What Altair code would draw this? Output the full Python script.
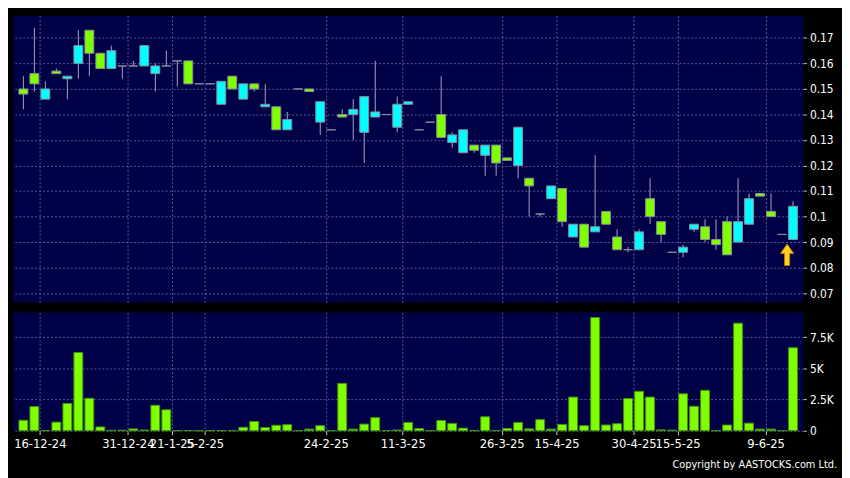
import altair as alt
import numpy as np
import pandas as pd

# ---- data (one entry per trading session shown) ----
opens = [0.150, 0.156, 0.146, 0.157, 0.154, 0.160, 0.173, 0.164, 0.158, 0.159,
         0.159, 0.159, 0.156, 0.159, 0.161, 0.161, 0.152, 0.152, 0.144, 0.155,
         0.146, 0.152, 0.143, 0.143, 0.134, 0.150, 0.150, 0.137, 0.134, 0.140,
         0.140, 0.133, 0.139, 0.140, 0.135, 0.144, 0.134, 0.137, 0.140, 0.129,
         0.125, 0.128, 0.124, 0.128, 0.123, 0.120, 0.115, 0.101, 0.107, 0.111,
         0.092, 0.097, 0.094, 0.102, 0.092, 0.087, 0.087, 0.107, 0.098, 0.086,
         0.086, 0.095, 0.096, 0.091, 0.098, 0.090, 0.097, 0.109, 0.102, 0.093,
         0.091]
closes = [0.148, 0.152, 0.150, 0.156, 0.155, 0.167, 0.164, 0.158, 0.165, 0.159,
          0.159, 0.167, 0.159, 0.159, 0.161, 0.152, 0.152, 0.152, 0.153, 0.150,
          0.152, 0.150, 0.144, 0.134, 0.138, 0.150, 0.149, 0.145, 0.134, 0.139,
          0.142, 0.147, 0.141, 0.140, 0.144, 0.145, 0.134, 0.137, 0.131, 0.132,
          0.134, 0.126, 0.128, 0.121, 0.122, 0.135, 0.112, 0.101, 0.112, 0.098,
          0.097, 0.088, 0.096, 0.097, 0.087, 0.087, 0.094, 0.100, 0.093, 0.086,
          0.088, 0.097, 0.091, 0.089, 0.085, 0.098, 0.107, 0.108, 0.100, 0.093,
          0.104]
highs = [0.155, 0.174, 0.153, 0.158, 0.155, 0.173, 0.173, 0.164, 0.167, 0.159,
         0.161, 0.167, 0.160, 0.165, 0.161, 0.161, 0.152, 0.152, 0.153, 0.155,
         0.152, 0.152, 0.152, 0.143, 0.141, 0.150, 0.150, 0.145, 0.134, 0.142,
         0.146, 0.147, 0.161, 0.140, 0.147, 0.145, 0.134, 0.137, 0.155, 0.133,
         0.134, 0.128, 0.128, 0.128, 0.123, 0.135, 0.115, 0.101, 0.112, 0.111,
         0.097, 0.097, 0.124, 0.102, 0.095, 0.088, 0.095, 0.115, 0.098, 0.086,
         0.089, 0.097, 0.099, 0.099, 0.100, 0.115, 0.109, 0.109, 0.109, 0.093,
         0.106]
lows = [0.142, 0.149, 0.146, 0.156, 0.146, 0.154, 0.155, 0.158, 0.158, 0.154,
        0.159, 0.159, 0.149, 0.159, 0.151, 0.152, 0.152, 0.152, 0.144, 0.150,
        0.146, 0.149, 0.143, 0.134, 0.134, 0.150, 0.149, 0.132, 0.134, 0.139,
        0.130, 0.121, 0.139, 0.140, 0.133, 0.144, 0.134, 0.137, 0.131, 0.127,
        0.125, 0.125, 0.116, 0.116, 0.122, 0.115, 0.100, 0.100, 0.107, 0.096,
        0.092, 0.088, 0.094, 0.097, 0.087, 0.086, 0.087, 0.097, 0.090, 0.086,
        0.084, 0.094, 0.090, 0.087, 0.085, 0.090, 0.097, 0.108, 0.100, 0.093,
        0.091]
volumes = [840, 1940, 20, 690, 2190, 6270, 2600, 305, 30, 40,
           150, 60, 2040, 1680, 20, 20, 10, 10, 10, 10,
           280, 740, 260, 440, 490, 10, 130, 410, 10, 3800,
           130, 535, 1050, 10, 60, 665, 180, 10, 820, 590,
           210, 30, 1120, 20, 180, 665, 150, 890, 130, 510,
           2700, 410, 9070, 460, 565, 2580, 3160, 2700, 70, 50,
           2960, 1960, 3240, 10, 460, 8620, 610, 130, 130, 10,
           6650]

# date labels and the session boundaries they sit on
tick_labels = ["16-12-24", "31-12-24", "21-1-25", "5-2-25", "24-2-25", "11-3-25",
               "26-3-25", "15-4-25", "30-4-25", "15-5-25", "9-6-25"]
tick_positions = [1.5, 9.5, 13.5, 16.5, 27.5, 34.5, 43.5, 48.5, 55.5, 59.5, 67.5]
price_ticks = [0.07, 0.08, 0.09, 0.10, 0.11, 0.12, 0.13, 0.14, 0.15, 0.16, 0.17]
volume_ticks = [0, 2500, 5000, 7500]
arrow_marker = {"i": 70, "p": 0.085}
copyright_text = "Copyright by AASTOCKS.com Ltd."

# ---- table ----
n = len(opens)
df = pd.DataFrame({"i": np.arange(n), "open": opens, "close": closes,
                   "high": highs, "low": lows, "volume": volumes})
df["dir"] = np.where(df["close"] > df["open"], "up",
                     np.where(df["close"] < df["open"], "down", "flat"))

W, HP, HV = 800, 290, 120
FONT = "DejaVu Sans Condensed, DejaVu Sans"
GRID = "#5a5a9c"

xscale = alt.Scale(domain=[-0.5, n - 0.5], nice=False, zero=False)
pscale = alt.Scale(domain=[0.0664, 0.1787], nice=False, zero=False)
vscale = alt.Scale(domain=[0, 9500], nice=False)

label_expr = " : ".join(
    f"datum.value == {p} ? '{t}'" for p, t in zip(tick_positions, tick_labels)
) + " : ''"

x_axis_price = alt.Axis(values=tick_positions, labels=False, ticks=False,
                        domain=False, grid=True, title=None)
y_axis_price = alt.Axis(orient="right", values=price_ticks, format=".2~f",
                        title=None, grid=True, domain=False, labelOverlap=False,
                        tickCount=len(price_ticks))

base = alt.Chart(df)
wicks = base.mark_rule(color="#a6a6c6", strokeWidth=1).encode(
    x=alt.X("i:Q", scale=xscale, axis=x_axis_price),
    y=alt.Y("low:Q", scale=pscale, axis=y_axis_price),
    y2="high:Q")
bodies = base.mark_bar(size=9, stroke="#8c8c9c", strokeWidth=1, orient="vertical").encode(
    x=alt.X("i:Q", scale=xscale, axis=x_axis_price),
    y=alt.Y("open:Q", scale=pscale, axis=y_axis_price),
    y2="close:Q",
    fill=alt.Fill("dir:N", scale=alt.Scale(domain=["up", "down", "flat"],
                                           range=["#00ffff", "#7fff00", "#9a9aaa"]),
                  legend=None),
)
ARROW = "M0,-1 L0.62,-0.12 L0.24,-0.12 L0.24,1 L-0.24,1 L-0.24,-0.12 L-0.62,-0.12 Z"
arrow = alt.Chart(pd.DataFrame([arrow_marker])).mark_point(
    shape=ARROW, size=470, filled=True, fill="#ffd21f", stroke="#b87800",
    strokeWidth=1, opacity=1, xOffset=-6).encode(
    x=alt.X("i:Q", scale=xscale, axis=x_axis_price),
    y=alt.Y("p:Q", scale=pscale, axis=y_axis_price))

price = alt.layer(wicks, bodies, arrow).properties(width=W, height=HP)

vol_bars = alt.Chart(df).mark_bar(size=9, fill="#7fff00", stroke="#3f9010",
                                  strokeWidth=1, orient="vertical").encode(
    x=alt.X("i:Q", scale=xscale,
            axis=alt.Axis(values=tick_positions, labelExpr=label_expr, grid=True,
                          domain=False, tickSize=4, labelPadding=3, title=None,
                          labelOverlap=False, labelFlush=False, labelFontSize=13)),
    y=alt.Y("volume:Q", scale=vscale,
            axis=alt.Axis(orient="right", values=volume_ticks, title=None, grid=True,
                          domain=False, labelOverlap=False,
                          labelExpr="datum.value == 0 ? '0' : format(datum.value / 1000, '~g') + 'K'")),
)
copy_txt = alt.Chart(pd.DataFrame({"t": [copyright_text]})).mark_text(
    align="right", baseline="bottom", fontSize=11, color="#ffffff", font=FONT).encode(
    text="t:N", x=alt.value(W + 34), y=alt.value(HV + 40))

volume = alt.layer(vol_bars, copy_txt).properties(width=W, height=HV)

chart = alt.vconcat(price, volume, spacing=10).configure(
    background="#000000",
).configure_view(
    fill="#000046", strokeWidth=0,
).configure_axis(
    labelColor="#ffffff", labelFont=FONT, labelFontSize=12,
    tickColor="#c8c8c8", tickSize=3, tickWidth=1, labelPadding=3,
    gridColor=GRID, gridDash=[2, 2], gridWidth=1, gridOpacity=1,
    labelOverlap=False,
)

chart.save("out.html", embed_options={"renderer": "svg", "actions": False})
